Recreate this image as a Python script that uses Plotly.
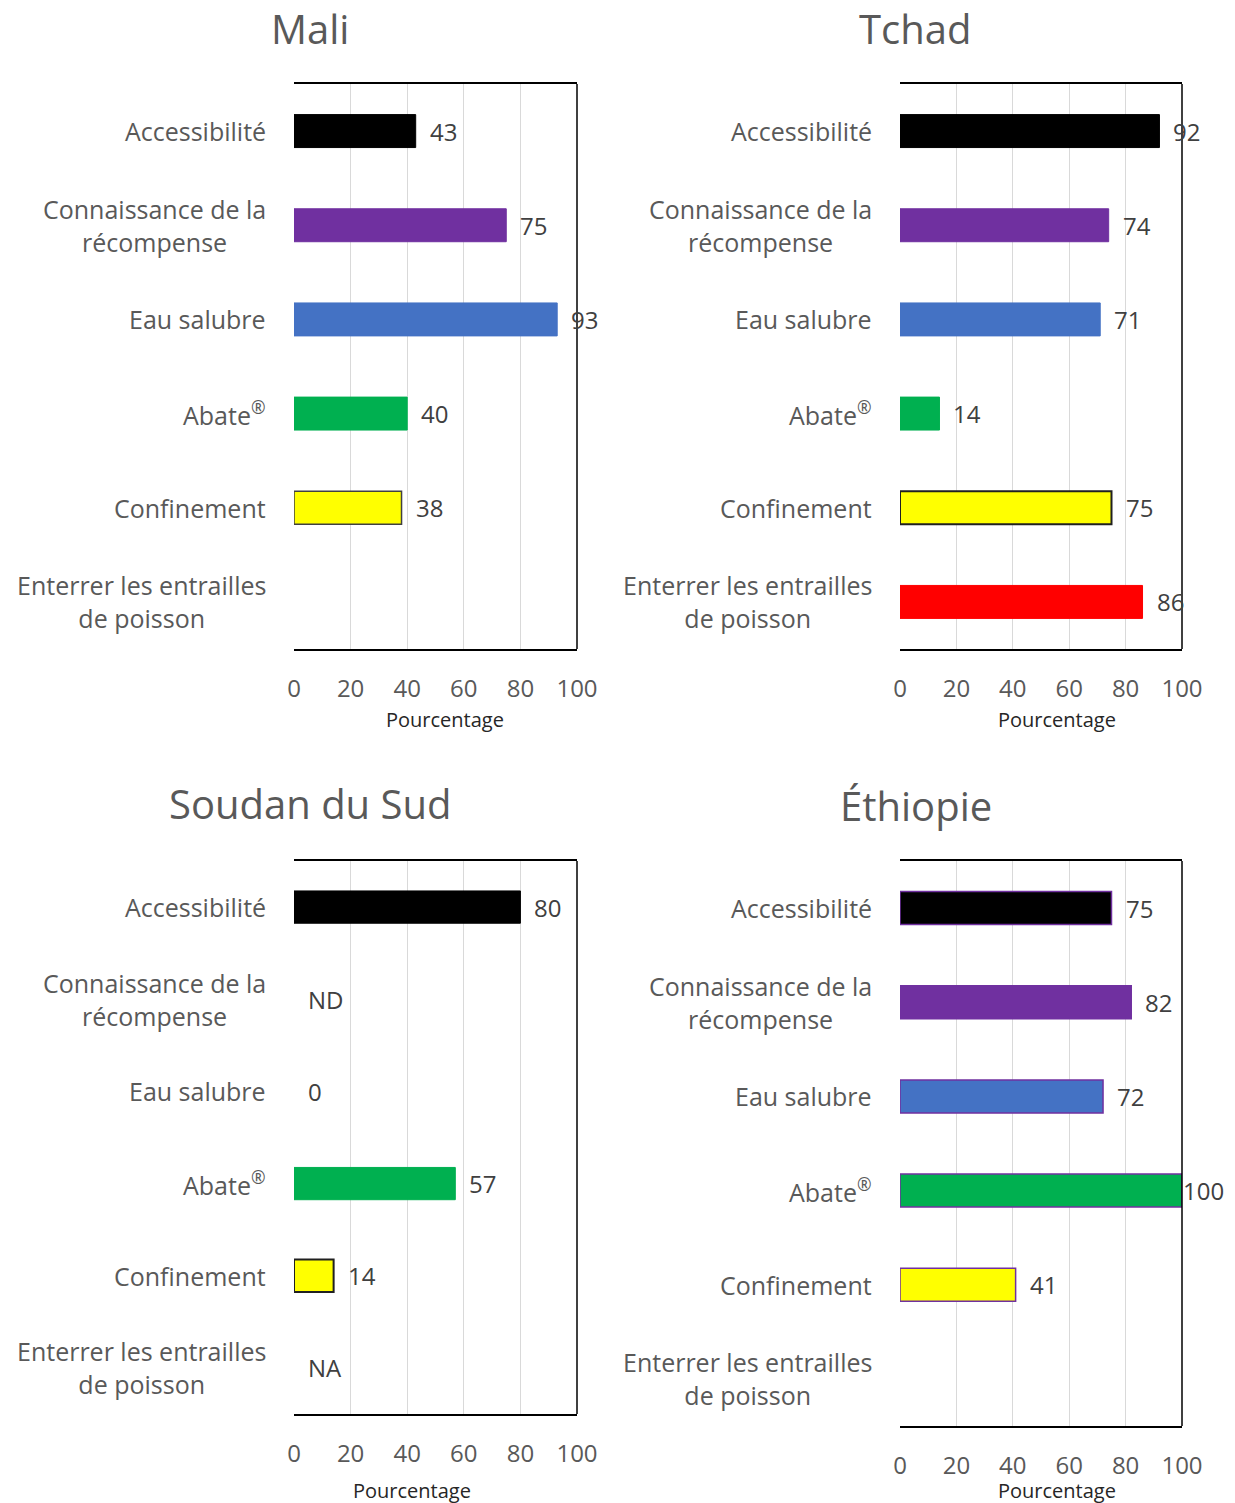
import plotly.graph_objects as go

# ---------------- data ----------------
categories = [
    "Accessibilité",
    "Connaissance de la<br>récompense",
    "Eau salubre",
    "Abate<sup>®</sup>",
    "Confinement",
    "Enterrer les entrailles<br>de poisson",
]
countries = ["Mali", "Tchad", "Soudan du Sud", "Éthiopie"]

mali_values = [43, 75, 93, 40, 38, None]
mali_labels = ["43", "75", "93", "40", "38", ""]

tchad_values = [92, 74, 71, 14, 75, 86]
tchad_labels = ["92", "74", "71", "14", "75", "86"]

soudan_values = [80, None, 0, 57, 14, None]
soudan_labels = ["80", "ND", "0", "57", "14", "NA"]

ethiopie_values = [75, 82, 72, 100, 41, None]
ethiopie_labels = ["75", "82", "72", "100", "41", ""]

x_ticks = [0, 20, 40, 60, 80, 100]
axis_title = "Pourcentage"

# ---------------- style ----------------
bar_colors = ["#000000", "#7030A0", "#4472C4", "#00B050", "#FFFF00", "#FF0000"]
W, H = 1235, 1503
OFF = 8  # page body margin added by the browser
FONT = "Open Sans"
LABEL_GAP = 12
LABEL_MAX_RIGHT = 1223
DIGIT_W = 14


def px_x(v):
    return (v - OFF) / W


def px_y(v):
    return 1 - (v - OFF) / H


# panel boxes in px: (left, right, top, bottom)
panels = [
    dict(name=countries[0], vals=mali_values, labs=mali_labels, box=(294, 577, 84, 649),
         title=(310, 28), xt=(445, 719),
         outline=["#000000", "#7030A0", "#4472C4", "#00B050", "#404040", "#FF0000"], olw=[1, 1, 1, 1, 1.5, 1]),
    dict(name=countries[1], vals=tchad_values, labs=tchad_labels, box=(900, 1182, 84, 649),
         title=(915, 28), xt=(1057, 719),
         outline=["#000000", "#7030A0", "#4472C4", "#00B050", "#202020", "#FF0000"], olw=[1, 1, 1, 1, 2, 1]),
    dict(name=countries[2], vals=soudan_values, labs=soudan_labels, box=(294, 577, 861, 1414),
         title=(310, 803), xt=(412, 1490),
         outline=["#000000", "#7030A0", "#4472C4", "#00B050", "#202020", "#FF0000"], olw=[1, 1, 0, 1, 2, 1]),
    dict(name=countries[3], vals=ethiopie_values, labs=ethiopie_labels, box=(900, 1182, 861, 1426),
         title=(916, 805), xt=(1057, 1490),
         outline=["#7030A0"] * 6, olw=[1.5] * 6),
]

fig = go.Figure()
annotations = []
shapes = []

for i, p in enumerate(panels, start=1):
    xa = "x" if i == 1 else f"x{i}"
    ya = "y" if i == 1 else f"y{i}"
    xkey = "xaxis" if i == 1 else f"xaxis{i}"
    ykey = "yaxis" if i == 1 else f"yaxis{i}"
    l, r, t, b = p["box"]

    xs, ys, cols, ocols, owids = [], [], [], [], []
    for j, (cat, v) in enumerate(zip(categories, p["vals"])):
        if v is None:
            continue
        xs.append(v)
        ys.append(cat)
        cols.append(bar_colors[j])
        ocols.append(p["outline"][j])
        owids.append(p["olw"][j])

    fig.add_trace(go.Bar(
        x=xs, y=ys, orientation="h", xaxis=xa, yaxis=ya,
        marker=dict(color=cols, line=dict(color=ocols, width=owids)),
        width=0.35, showlegend=False, hoverinfo="skip",
    ))

    fig.layout[xkey] = dict(
        domain=[px_x(l), px_x(r)], anchor=ya, range=[0, 100],
        tickmode="array", tickvals=x_ticks, ticktext=[str(v) for v in x_ticks],
        tickfont=dict(family=FONT, size=24, color="#595959"),
        ticklabelstandoff=17, automargin=False,
        showgrid=True, gridcolor="#D9D9D9", gridwidth=1,
        zeroline=False, showline=True, mirror=True, linecolor="#000000", linewidth=1.5,
        ticks="", fixedrange=True,
    )
    fig.layout[ykey] = dict(
        domain=[px_y(b), px_y(t)], anchor=xa,
        type="category", categoryorder="array", categoryarray=categories,
        range=[5.5, -0.5], showticklabels=False, showgrid=False, automargin=False,
        zeroline=False, showline=False, ticks="", fixedrange=True,
    )

    # right black border
    shapes.append(dict(type="line", xref=f"{xa} domain", yref=f"{ya} domain",
                       x0=1, x1=1, y0=0, y1=1, line=dict(color="#000000", width=1.5)))

    # category labels
    for cat in categories:
        annotations.append(dict(
            xref=f"{xa} domain", yref=ya, x=0, y=cat, xshift=-26,
            xanchor="right", yanchor="middle", align="center", showarrow=False,
            text=cat, font=dict(family=FONT, size=25, color="#595959"),
        ))

    # data labels (kept inside the chart area like the original)
    for cat, v, lab in zip(categories, p["vals"], p["labs"]):
        if lab == "":
            continue
        xv = v if v is not None else 0
        end_px = l + xv / 100 * (r - l)
        shift = LABEL_GAP
        width = DIGIT_W * len(lab)
        if end_px + shift + width > LABEL_MAX_RIGHT:
            shift = LABEL_MAX_RIGHT - width - end_px
        annotations.append(dict(
            xref=xa, yref=ya, x=xv, y=cat, xshift=shift,
            xanchor="left", yanchor="middle", showarrow=False,
            text=lab, font=dict(family=FONT, size=24, color="#404040"),
        ))

    # title
    tx, ty = p["title"]
    annotations.append(dict(
        xref="paper", yref="paper", x=px_x(tx), y=px_y(ty),
        xanchor="center", yanchor="middle", showarrow=False,
        text=p["name"], font=dict(family=FONT, size=40, color="#595959"),
    ))
    # axis title
    ax_x, ax_y = p["xt"]
    annotations.append(dict(
        xref="paper", yref="paper", x=px_x(ax_x), y=px_y(ax_y),
        xanchor="center", yanchor="middle", showarrow=False,
        text=axis_title, font=dict(family=FONT, size=20, color="#262626"),
    ))

fig.update_layout(
    width=W, height=H, margin=dict(l=0, r=0, t=0, b=0, autoexpand=False),
    paper_bgcolor="white", plot_bgcolor="white",
    annotations=annotations, shapes=shapes,
    font=dict(family=FONT),
)

fig.write_html("out.html")
